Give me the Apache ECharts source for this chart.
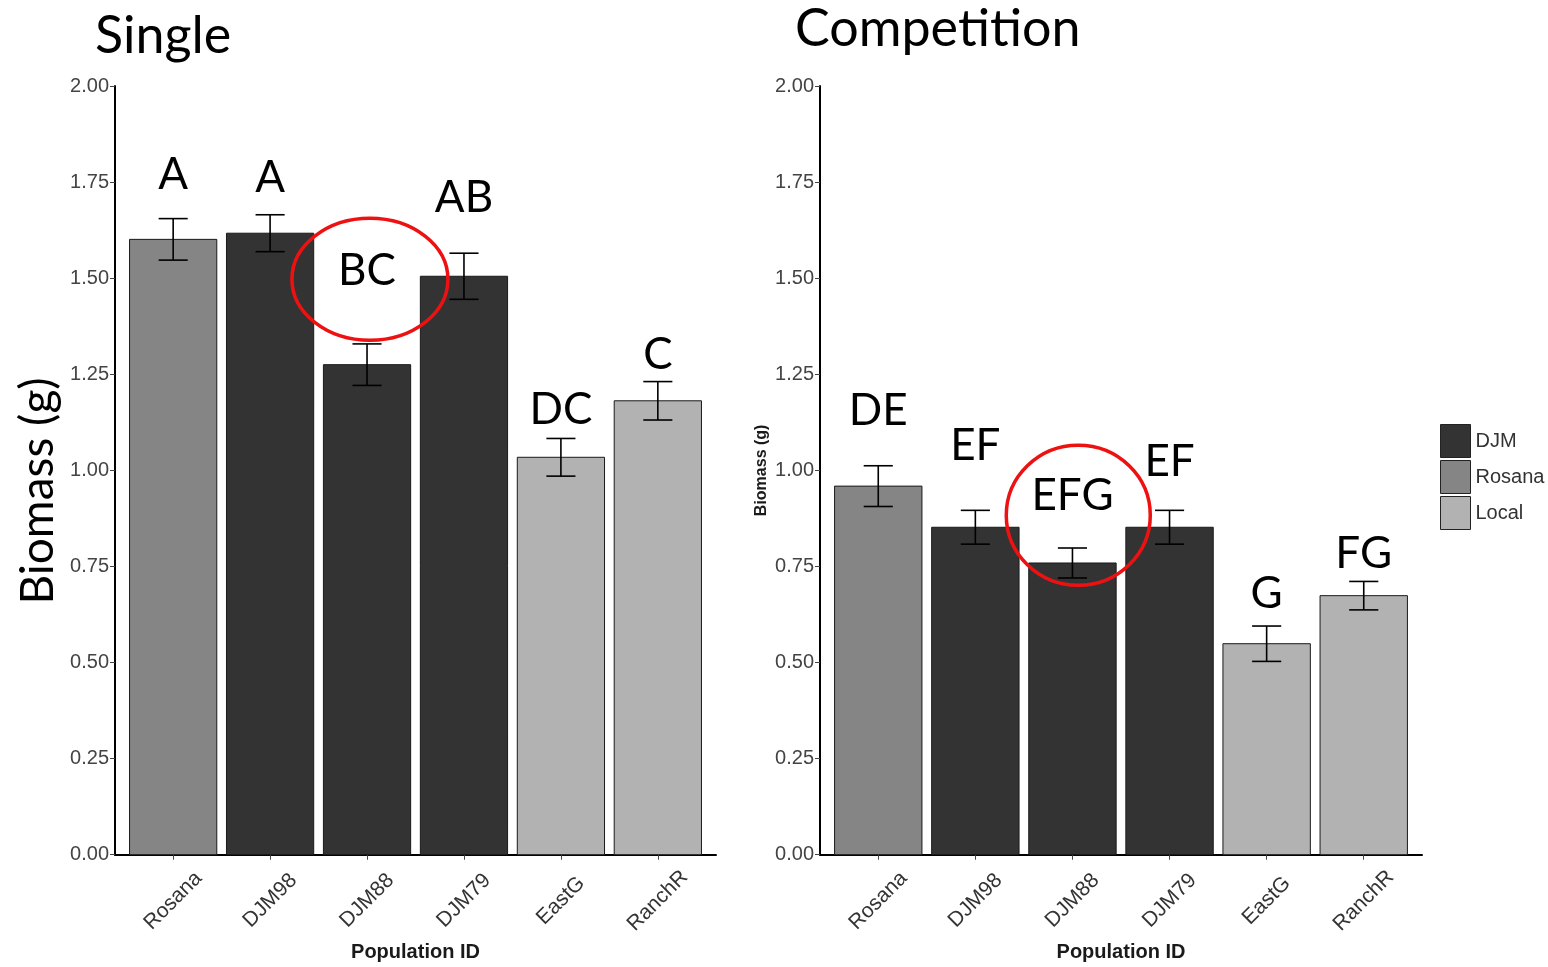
<!DOCTYPE html>
<html><head><meta charset="utf-8">
<script src="https://cdn.jsdelivr.net/npm/echarts@6/dist/echarts.min.js"></script>
<style>html,body{margin:0;padding:0;background:#fff}#c{width:1548px;height:967px}</style>
</head><body><div id="c"></div>
<script>
// ---------- data ----------
const categories = ['Rosana', 'DJM98', 'DJM88', 'DJM79', 'EastG', 'RanchR'];
const groups = ['Rosana', 'DJM', 'DJM', 'DJM', 'Local', 'Local'];
const legendGroups = ['DJM', 'Rosana', 'Local'];
const singleMean = [1.601, 1.617, 1.275, 1.505, 1.034, 1.181];
const singleSE = [0.054, 0.048, 0.054, 0.060, 0.049, 0.050];
const compMean = [0.959, 0.852, 0.759, 0.852, 0.549, 0.674];
const compSE = [0.053, 0.044, 0.039, 0.044, 0.046, 0.037];
const singleLetters = ['A', 'A', 'BC', 'AB', 'DC', 'C'];
const singleLetterY = [1.769, 1.762, 1.518, 1.710, 1.158, 1.301];
const compLetters = ['DE', 'EF', 'EFG', 'EF', 'G', 'FG'];
const compLetterY = [1.155, 1.065, 0.933, 1.023, 0.679, 0.782];
const circledIndex = [2, 2];
const circleCenterY = [1.497, 0.883];
const panelTitles = ['Single', 'Competition'];

// ---------- styling ----------
const groupColor = { DJM: '#333333', Rosana: '#858585', Local: '#b2b2b2' };
const panels = [
  { mean: singleMean, se: singleSE, letters: singleLetters, letterY: singleLetterY, circleDx: 0.03, rx: 78, ry: 61 },
  { mean: compMean, se: compSE, letters: compLetters, letterY: compLetterY, circleDx: 0.06, rx: 72, ry: 70 }
];
const xPos = categories.map((c, i) => i + 1);

const chart = echarts.init(document.getElementById('c'), null, { renderer: 'canvas' });

function renderBar(params, api) {
  const x = api.value(0), y = api.value(1);
  const p1 = api.coord([x - 0.45, y]);
  const p2 = api.coord([x + 0.45, 0]);
  return {
    type: 'rect',
    shape: { x: p1[0], y: p1[1], width: p2[0] - p1[0], height: p2[1] - p1[1] },
    style: { fill: api.visual('color'), stroke: '#1a1a1a', lineWidth: 1 }
  };
}
function renderErr(params, api) {
  const x = api.value(0);
  const lo = api.coord([x, api.value(1)]);
  const hi = api.coord([x, api.value(2)]);
  const hw = (api.coord([x + 0.15, 0])[0] - api.coord([x - 0.15, 0])[0]) / 2;
  const st = { stroke: '#000', lineWidth: 1.6 };
  return {
    type: 'group',
    children: [
      { type: 'line', shape: { x1: lo[0], y1: lo[1], x2: hi[0], y2: hi[1] }, style: st },
      { type: 'line', shape: { x1: lo[0] - hw, y1: lo[1], x2: lo[0] + hw, y2: lo[1] }, style: st },
      { type: 'line', shape: { x1: hi[0] - hw, y1: hi[1], x2: hi[0] + hw, y2: hi[1] }, style: st }
    ]
  };
}

const grids = [
  { left: 115, top: 86, width: 601, height: 772 },
  { left: 820, top: 86, width: 602, height: 772 }
];

const xAxes = grids.map((g, gi) => ({
  type: 'value', gridIndex: gi, min: 0.4, max: 6.6,
  axisLine: { lineStyle: { color: '#000', width: 2 } },
  axisTick: { show: true, customValues: xPos, length: 5, lineStyle: { color: '#444', width: 1 } },
  axisLabel: {
    customValues: xPos, rotate: 45, align: 'center', verticalAlign: 'middle', margin: 46,
    formatter: v => categories[Math.round(v) - 1] || '',
    fontFamily: 'Liberation Sans', fontSize: 21, color: '#333'
  },
  splitLine: { show: false },
  name: 'Population ID', nameLocation: 'middle', nameGap: 97,
  nameTextStyle: { fontFamily: 'Liberation Sans', fontSize: 20, fontWeight: 'bold', color: '#1a1a1a', verticalAlign: 'middle' }
}));

const yAxes = grids.map((g, gi) => ({
  type: 'value', gridIndex: gi, min: 0, max: 2, interval: 0.25,
  axisLine: { show: true, lineStyle: { color: '#000', width: 2 } },
  axisTick: { show: true, length: 5, lineStyle: { color: '#444', width: 1 } },
  axisLabel: {
    margin: 6, formatter: v => v.toFixed(2),
    fontFamily: 'Liberation Sans', fontSize: 20, color: '#444'
  },
  splitLine: { show: false },
  name: gi === 1 ? 'Biomass (g)' : '', nameLocation: 'middle', nameGap: 58,
  nameTextStyle: { fontFamily: 'Liberation Sans', fontSize: 16, fontWeight: 'bold', color: '#1a1a1a', verticalAlign: 'middle' }
}));

const series = [];
panels.forEach((p, pi) => {
  legendGroups.forEach(gname => {
    const data = [];
    categories.forEach((c, i) => { if (groups[i] === gname) data.push([xPos[i], p.mean[i]]); });
    series.push({
      type: 'custom', name: gname, xAxisIndex: pi, yAxisIndex: pi,
      itemStyle: { color: groupColor[gname] },
      renderItem: renderBar, encode: { x: 0, y: 1 }, data: data, z: 2
    });
  });
  series.push({
    type: 'custom', name: 'err' + pi, xAxisIndex: pi, yAxisIndex: pi,
    renderItem: renderErr, encode: { x: 0, y: [1, 2] }, z: 3,
    data: categories.map((c, i) => [xPos[i], p.mean[i] - p.se[i], p.mean[i] + p.se[i]])
  });
  series.push({
    type: 'custom', name: 'letters' + pi, xAxisIndex: pi, yAxisIndex: pi, z: 5,
    encode: { x: 0, y: 1 },
    data: categories.map((c, i) => [xPos[i], p.letterY[i]]),
    renderItem: function (params, api) {
      const i = params.dataIndex;
      const pt = api.coord([api.value(0), api.value(1)]);
      const children = [{
        type: 'text',
        style: { text: p.letters[i], x: pt[0], y: pt[1], align: 'center', verticalAlign: 'middle',
          font: '44px Lato', fill: '#000' }
      }];
      if (i === circledIndex[pi]) {
        const c = api.coord([xPos[i] + p.circleDx, circleCenterY[pi]]);
        children.push({
          type: 'ellipse', shape: { cx: c[0], cy: c[1], rx: p.rx, ry: p.ry },
          style: { fill: 'none', stroke: '#ee1111', lineWidth: 3.5 }
        });
      }
      return { type: 'group', children: children };
    }
  });
});

chart.setOption({
  animation: false,
  backgroundColor: '#fff',
  grid: grids,
  xAxis: xAxes,
  yAxis: yAxes,
  legend: {
    data: legendGroups, orient: 'vertical', left: 1440, top: 424,
    itemWidth: 30, itemHeight: 33, itemGap: 2, icon: 'rect', padding: 0,
    itemStyle: { borderColor: '#222', borderWidth: 1 },
    textStyle: { fontFamily: 'Liberation Sans', fontSize: 20, color: '#333' }
  },
  graphic: [
    { type: 'text', left: 95, top: 10, z: 100,
      style: { text: panelTitles[0], font: '52px Lato', fill: '#000' } },
    { type: 'text', left: 795, top: 3, z: 100,
      style: { text: panelTitles[1], font: '52px Lato', fill: '#000' } },
    { type: 'text', x: 38, y: 491, rotation: Math.PI / 2, z: 100,
      style: { text: 'Biomass (g)', font: '46px Lato', fill: '#000', align: 'center', verticalAlign: 'middle',
        backgroundColor: '#fff', padding: [0, 0, 4, 0] } }
  ],
  series: series
});
</script></body></html>
